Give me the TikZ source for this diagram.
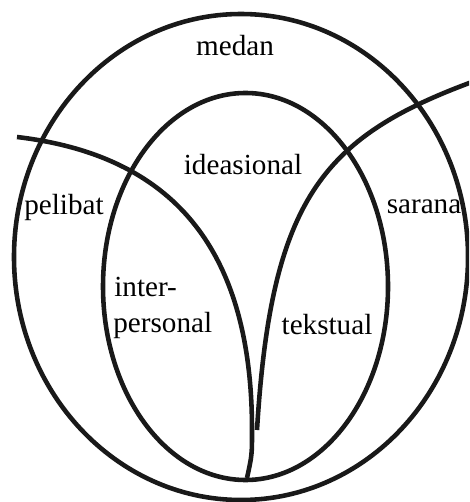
\documentclass[tikz,border=0pt]{standalone}
\usepackage{fontspec}
\setmainfont{Liberation Serif}
\begin{document}
\begin{tikzpicture}[x=0.02cm,y=-0.02cm,
  ln/.style={line width=2.6pt,draw=black!90},
  lbl/.style={font=\fontsize{16.6}{19}\selectfont,inner sep=0pt}]
\useasboundingbox (0,0) rectangle (469,502);
\clip (0,0) rectangle (469,502);
% outer ellipse
\draw[ln] (241,257) ellipse [x radius=227, y radius=243];
% inner ellipse
\draw[ln] (245.5,286.5) ellipse [x radius=142.5, y radius=193.5];
% left curve
\draw[ln] (17,137) .. controls (160,154) and (252,235) .. (252,430)
  .. controls (252,455) .. (247,478);
% right curve
\draw[ln] (472,82) .. controls (322,137.5) and (271,200) .. (257,430);
% labels
\node[lbl] (medan) at (235,46) {medan};
\node[lbl] (ideas) at (243,165) {ideasional};
\node[lbl] (pelibat) at (64,207) {pelibat};
\node[lbl] (sarana) at (424,207) {sarana};
\node[lbl,anchor=west] (inter) at (114,287) {inter-};
\node[lbl,anchor=west] (personal) at (113,325) {personal};
\node[lbl] (tekstual) at (327,325) {tekstual};
\end{tikzpicture}
\end{document}
